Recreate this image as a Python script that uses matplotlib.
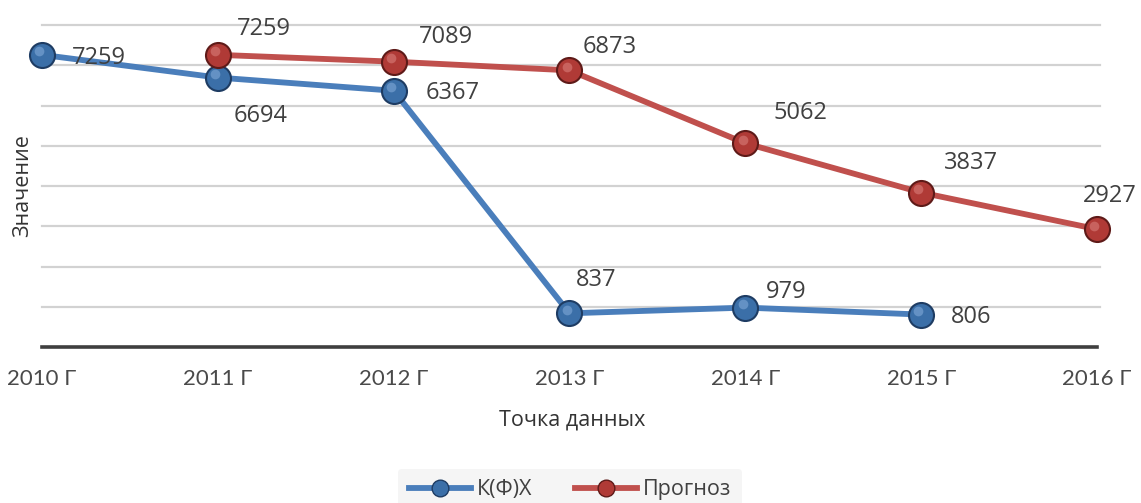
import matplotlib.pyplot as plt
from matplotlib.lines import Line2D
import matplotlib.transforms as mtransforms

# chart data
years = [2010, 2011, 2012, 2013, 2014, 2015, 2016]
year_labels = ["2010 Г", "2011 Г", "2012 Г", "2013 Г", "2014 Г", "2015 Г", "2016 Г"]
kfh_years = [2010, 2011, 2012, 2013, 2014, 2015]
kfh_values = [7259, 6694, 6367, 837, 979, 806]
forecast_years = [2011, 2012, 2013, 2014, 2015, 2016]
forecast_values = [7259, 7089, 6873, 5062, 3837, 2927]

# label offsets in pixels (dx, dy) for each point
kfh_offsets = [(57, -3), (43, -38), (59, -2), (27, 33), (41, 16), (50, -2)]
forecast_offsets = [(46, 26), (52, 25), (40, 23), (55, 30), (50, 30), (13, 33)]

BLUE = "#4A7EBB"
RED = "#C0504D"
TEXT = "#404040"

plt.rcParams["font.family"] = ["Open Sans", "DejaVu Sans"]

fig = plt.figure(figsize=(11.41, 5.03), dpi=100)
ax = fig.add_axes([42 / 1141, 1 - 347 / 503, (1097 - 42) / 1141, (347 - 25) / 503])

ax.set_xlim(2010, 2016)
ax.set_ylim(0, 8000)

# gridlines
for v in range(1000, 8001, 1000):
    ax.axhline(v, color="#D2D2D2", lw=1.6, zorder=0, xmin=0, xmax=1.003, clip_on=False)
ax.axhline(0, color="#3F3F3F", lw=2.6, zorder=1, clip_on=False)

for s in ax.spines.values():
    s.set_visible(False)


def draw_series(x, y, line_color, face, edge, hl):
    ax.plot(x, y, color=line_color, lw=4.2, zorder=3, clip_on=False, solid_capstyle="round")
    ax.plot(x, y, ls="none", marker="o", ms=18, mfc=face, mec=edge, mew=1.5,
            zorder=4, clip_on=False)
    # small highlight to hint at the sphere look
    off = mtransforms.offset_copy(ax.transData, fig=fig, x=-2, y=2.5, units="points")
    ax.plot(x, y, ls="none", marker="o", ms=7, mfc=hl, mec="none", alpha=0.5,
            zorder=5, clip_on=False, transform=off)


draw_series(kfh_years, kfh_values, BLUE, "#3B6FA8", "#1E3C63", "#8DB4E0")
draw_series(forecast_years, forecast_values, RED, "#B03A36", "#5E1A18", "#E08A86")

for x, y, (dx, dy) in zip(kfh_years, kfh_values, kfh_offsets):
    ax.annotate(str(y), (x, y), xytext=(dx, dy), textcoords="offset pixels",
                ha="center", va="center", fontsize=17, color=TEXT, zorder=6,
                annotation_clip=False)
for x, y, (dx, dy) in zip(forecast_years, forecast_values, forecast_offsets):
    ax.annotate(str(y), (x, y), xytext=(dx, dy), textcoords="offset pixels",
                ha="center", va="center", fontsize=17, color=TEXT, zorder=6,
                annotation_clip=False)

ax.set_yticks([])
ax.set_xticks(years)
ax.set_xticklabels(year_labels, fontsize=16, color="#4A4A4A", family="Lato")
ax.tick_params(axis="x", length=0, pad=16)

fig.text(572 / 1141, 1 - 420 / 503, "Точка данных", ha="center", va="center",
         fontsize=15.5, color="#333333")
fig.text(23 / 1141, 1 - 186 / 503, "Значение", ha="center", va="center",
         rotation=90, fontsize=15.5, color="#333333")

handles = [
    Line2D([], [], color=BLUE, lw=4.2, marker="o", ms=12, mfc="#3B6FA8", mec="#1E3C63"),
    Line2D([], [], color=RED, lw=4.2, marker="o", ms=12, mfc="#B03A36", mec="#5E1A18"),
]
leg = fig.legend(handles, ["К(Ф)Х", "Прогноз"], loc="center",
                 bbox_to_anchor=(570 / 1141, 1 - 490 / 503), ncol=2, frameon=True,
                 fontsize=15.5, handlelength=2.9, handletextpad=0.25, columnspacing=2.0,
                 borderpad=0.5)
leg.get_frame().set_facecolor("#F3F3F3")
leg.get_frame().set_edgecolor("none")
for t in leg.get_texts():
    t.set_color("#404040")

fig.savefig("out.png", dpi=100, facecolor="white")
